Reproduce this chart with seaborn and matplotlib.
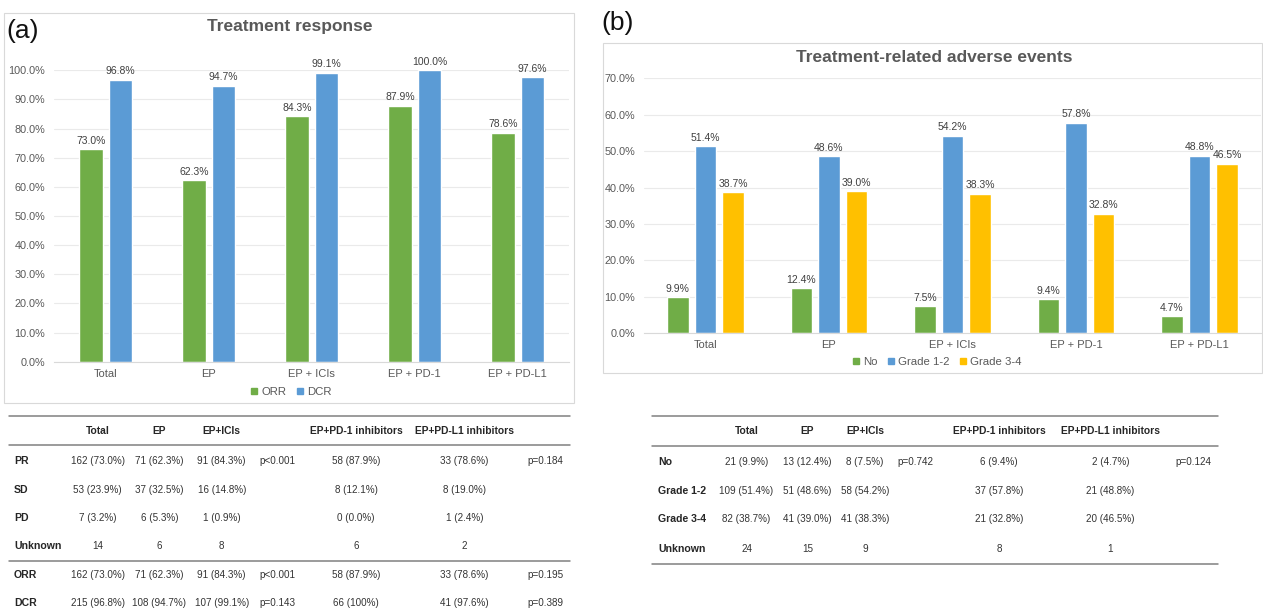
import matplotlib
matplotlib.use("Agg")
import matplotlib.pyplot as plt
from matplotlib.lines import Line2D
from matplotlib.patches import Rectangle
from matplotlib.ticker import FuncFormatter, MultipleLocator
import pandas as pd
import seaborn as sns

# ---------------- data ----------------
groups = ["Total", "EP", "EP + ICIs", "EP + PD-1", "EP + PD-L1"]

orr = [73.0, 62.3, 84.3, 87.9, 78.6]
dcr = [96.8, 94.7, 99.1, 100.0, 97.6]

ae_no = [9.9, 12.4, 7.5, 9.4, 4.7]
ae_grade12 = [51.4, 48.6, 54.2, 57.8, 48.8]
ae_grade34 = [38.7, 39.0, 38.3, 32.8, 46.5]

table_header = ["Total", "EP", "EP+ICIs", "", "EP+PD-1 inhibitors", "EP+PD-L1 inhibitors", ""]

resp_rows = ["PR", "SD", "PD", "Unknown", "ORR", "DCR"]
resp_cells = [
    ["162 (73.0%)", "71 (62.3%)", "91 (84.3%)", "p<0.001", "58 (87.9%)", "33 (78.6%)", "p=0.184"],
    ["53 (23.9%)", "37 (32.5%)", "16 (14.8%)", "", "8 (12.1%)", "8 (19.0%)", ""],
    ["7 (3.2%)", "6 (5.3%)", "1 (0.9%)", "", "0 (0.0%)", "1 (2.4%)", ""],
    ["14", "6", "8", "", "6", "2", ""],
    ["162 (73.0%)", "71 (62.3%)", "91 (84.3%)", "p<0.001", "58 (87.9%)", "33 (78.6%)", "p=0.195"],
    ["215 (96.8%)", "108 (94.7%)", "107 (99.1%)", "p=0.143", "66 (100%)", "41 (97.6%)", "p=0.389"],
]

ae_rows = ["No", "Grade 1-2", "Grade 3-4", "Unknown"]
ae_cells = [
    ["21 (9.9%)", "13 (12.4%)", "8 (7.5%)", "p=0.742", "6 (9.4%)", "2 (4.7%)", "p=0.124"],
    ["109 (51.4%)", "51 (48.6%)", "58 (54.2%)", "", "37 (57.8%)", "21 (48.8%)", ""],
    ["82 (38.7%)", "41 (39.0%)", "41 (38.3%)", "", "21 (32.8%)", "20 (46.5%)", ""],
    ["24", "15", "9", "", "8", "1", ""],
]

# ---------------- style ----------------
sns.set_style("white")
plt.rcParams["font.family"] = ["Liberation Sans", "DejaVu Sans"]

GREEN, BLUE, YELLOW = "#70AD47", "#5B9BD5", "#FFC000"
GREY_TXT = "#595959"

W, H = 1263, 615
fig = plt.figure(figsize=(W / 100, H / 100), dpi=100)


def fx(px):
    return px / W


def fy(py):
    return 1 - py / H


def axes_px(x0, y_top, x1, y_bottom):
    return fig.add_axes([fx(x0), fy(y_bottom), (x1 - x0) / W, (y_bottom - y_top) / H])


def frame(x0, y0, x1, y1):
    fig.add_artist(Rectangle((fx(x0), fy(y1)), (x1 - x0) / W, (y1 - y0) / H,
                             transform=fig.transFigure, fill=False,
                             edgecolor="#D9D9D9", lw=0.8))


def bar_panel(ax, series, names, colors, width, gap, ymax, ypad, xpad):
    df = pd.DataFrame({
        "group": groups * len(series),
        "series": [n for n in names for _ in groups],
        "value": [v for s in series for v in s],
    })
    sns.barplot(data=df, x="group", y="value", hue="series", order=groups,
                hue_order=names, palette=colors, width=width, gap=gap,
                saturation=1, errorbar=None, legend=False, ax=ax)
    for cont in ax.containers:
        ax.bar_label(cont, labels=[f"{v:.1f}%" for v in cont.datavalues],
                     padding=2.5, fontsize=7.5, color="#404040")
    ax.set_ylim(0, ymax)
    ax.set_xlim(-0.5, len(groups) - 0.5)
    ax.yaxis.set_major_locator(MultipleLocator(10))
    ax.yaxis.set_major_formatter(FuncFormatter(lambda v, _: f"{v:.1f}%"))
    ax.grid(axis="y", color="#EAEAEA", lw=0.8)
    ax.set_axisbelow(True)
    for s in ("left", "right", "top"):
        ax.spines[s].set_visible(False)
    ax.spines["bottom"].set_color("#D9D9D9")
    ax.tick_params(axis="y", length=0, labelsize=7.8, labelcolor=GREY_TXT, pad=ypad)
    ax.tick_params(axis="x", length=0, labelsize=8, labelcolor=GREY_TXT, pad=xpad)
    ax.set_xlabel("")
    ax.set_ylabel("")


def legend(names, colors, cx, cy):
    handles = [Line2D([], [], marker="s", ls="", color=c, markersize=5) for c in colors]
    fig.legend(handles, names, loc="center", bbox_to_anchor=(fx(cx), fy(cy)),
               ncol=len(names), frameon=False, fontsize=8.2, handlelength=0.6,
               handletextpad=0.3, columnspacing=0.9, labelcolor=GREY_TXT,
               borderaxespad=0, borderpad=0)


def table(label_x, col_x, header_y, row_ys, rows, cells, line_ys, x0, x1):
    for y in line_ys:
        fig.add_artist(Line2D([fx(x0), fx(x1)], [fy(y), fy(y)],
                              transform=fig.transFigure, color="#808080", lw=1.1))
    for x, h in zip(col_x, table_header):
        if h:
            fig.text(fx(x), fy(header_y), h, ha="center", va="center",
                     fontsize=7.4, weight="bold", color="#262626")
    for y, name, vals in zip(row_ys, rows, cells):
        fig.text(fx(label_x), fy(y), name, ha="left", va="center",
                 fontsize=7.6, weight="bold", color="#262626")
        for x, v in zip(col_x, vals):
            if v:
                fig.text(fx(x), fy(y), v, ha="center", va="center",
                         fontsize=7.1, color="#333333")


# ---------------- (a) treatment response ----------------
frame(4, 12.7, 574, 403)
fig.text(fx(6), fy(31), "(a)", ha="left", va="center", fontsize=19, color="#111111")
fig.text(fx(290), fy(27), "Treatment response", ha="center", va="center",
         fontsize=12.5, weight="bold", color=GREY_TXT)
ax_a = axes_px(54.2, 70.3, 569.2, 361.7)
bar_panel(ax_a, [orr, dcr], ["ORR", "DCR"], [GREEN, BLUE],
          width=0.57, gap=0.2, ymax=100, ypad=6.5, xpad=5)
legend(["ORR", "DCR"], [GREEN, BLUE], 291, 392)

# ---------------- (b) adverse events ----------------
frame(603, 43, 1262, 373)
fig.text(fx(601), fy(23), "(b)", ha="left", va="center", fontsize=19, color="#111111")
fig.text(fx(934), fy(57), "Treatment-related adverse events", ha="center", va="center",
         fontsize=12.5, weight="bold", color=GREY_TXT)
ax_b = axes_px(643.7, 78.3, 1261.2, 333.3)
bar_panel(ax_b, [ae_no, ae_grade12, ae_grade34], ["No", "Grade 1-2", "Grade 3-4"],
          [GREEN, BLUE, YELLOW], width=0.67, gap=0.22, ymax=70, ypad=6.3, xpad=4.5)
legend(["No", "Grade 1-2", "Grade 3-4"], [GREEN, BLUE, YELLOW], 937, 362)

# ---------------- tables ----------------
table(14, [97.8, 159.5, 221.7, 277.5, 356, 464.5, 545.7], 431,
      [461, 490, 518, 546, 574.5, 603], resp_rows, resp_cells,
      [415.7, 445, 560.7], 9, 570)

table(658.3, [746.5, 807.5, 865, 915, 999, 1110.5, 1193], 431,
      [461.7, 490.7, 519.3, 549], ae_rows, ae_cells,
      [415.7, 446, 564.3], 652.3, 1218)

fig.savefig("out.png", dpi=100)
